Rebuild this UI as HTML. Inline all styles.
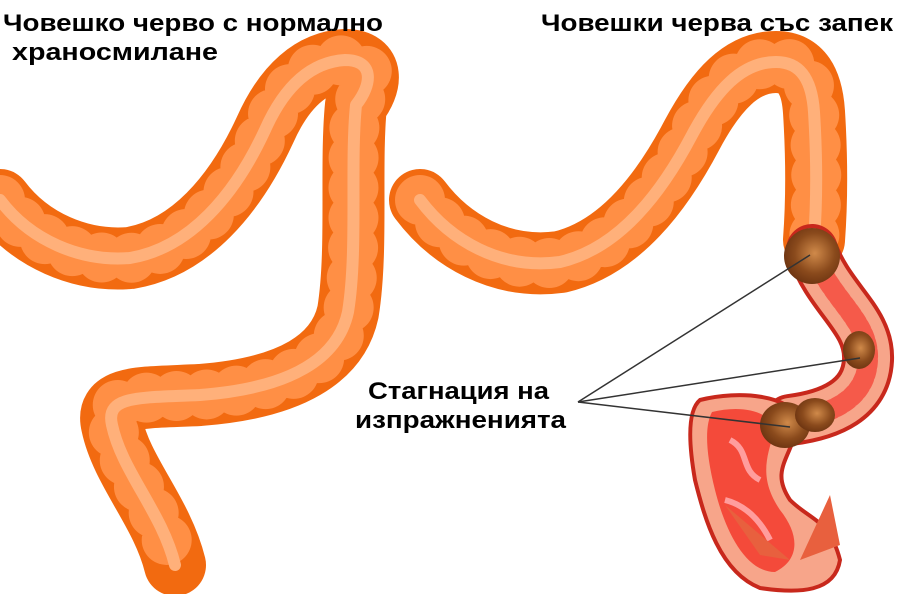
<!DOCTYPE html>
<html><head><meta charset="utf-8"><style>
html,body{margin:0;padding:0;background:#fff;}
svg{display:block}
text{font-family:"Liberation Sans",sans-serif;font-weight:bold;font-size:24px;fill:#000}
</style></head><body>
<svg width="917" height="594" viewBox="0 0 917 594">
<defs>
<radialGradient id="poo" cx="55%" cy="45%" r="60%">
<stop offset="0" stop-color="#d08a4a"/><stop offset="0.6" stop-color="#8a4a1c"/><stop offset="1" stop-color="#6a3210"/>
</radialGradient>
<path id="L" d="M0,200 C30,240 80,262 130,258 C190,248 235,195 265,130 C285,85 312,62 345,60 C375,60 372,85 356,105 C350,165 358,250 348,312 C338,358 292,388 200,395 C140,398 105,395 112,425 C122,472 162,512 175,565"/>
<path id="R" d="M420,200 C450,240 500,270 560,262 C620,248 662,192 692,135 C716,90 742,62 776,62 C802,62 812,82 814,112 C817,160 817,200 814,240"/>
</defs>
<g fill="none" stroke-linecap="round" stroke-linejoin="round">
<use href="#L" stroke="#f26a10" stroke-width="62"/>
<use href="#L" stroke="#ff8f45" stroke-width="50" stroke-dasharray="0 30"/>
<use href="#L" stroke="#ffb07a" stroke-width="12"/>
<use href="#R" stroke="#f26a10" stroke-width="62"/>
<use href="#R" stroke="#ff8f45" stroke-width="50" stroke-dasharray="0 30"/>
<use href="#R" stroke="#ffb07a" stroke-width="12"/>
<!-- cutaway section -->
<path d="M812,250 C830,300 870,320 868,360 C866,400 830,415 790,420" stroke="#c8281c" stroke-width="52"/>
<path d="M812,250 C830,300 870,320 868,360 C866,400 830,415 790,420" stroke="#f7a58a" stroke-width="44"/>
<path d="M812,250 C830,300 870,320 868,360 C866,400 830,415 790,420" stroke="#f55a4a" stroke-width="20" stroke-dasharray="5 4"/>
</g>
<!-- rectum -->
<path d="M700,400 C740,390 790,395 800,420 C790,460 770,470 790,500 C810,520 830,520 840,560 C835,592 800,594 760,588 C720,572 705,520 695,480 C688,440 688,410 700,400Z" fill="#f7a58a" stroke="#c8281c" stroke-width="4"/>
<path d="M712,412 C740,405 770,410 775,430 C765,460 760,480 780,510 C800,535 800,560 775,572 C745,572 725,530 715,490 C705,450 705,425 712,412Z" fill="#f44a3a"/>
<path d="M730,440 C750,450 740,470 760,480 M725,500 C745,505 760,520 770,540" stroke="#ff9d9d" stroke-width="6" fill="none"/>
<path d="M760,555 L725,505 L790,560Z M800,560 L830,495 L840,545 Z" fill="#e8603e"/>
<!-- feces -->
<circle cx="812" cy="256" r="28" fill="url(#poo)"/>
<ellipse cx="859" cy="350" rx="16" ry="19" fill="url(#poo)"/>
<ellipse cx="785" cy="425" rx="25" ry="23" fill="url(#poo)"/>
<ellipse cx="815" cy="415" rx="20" ry="17" fill="url(#poo)"/>
<g stroke="#333" stroke-width="1.5">
<line x1="578" y1="402" x2="810" y2="255"/>
<line x1="578" y1="402" x2="860" y2="358"/>
<line x1="578" y1="402" x2="790" y2="427"/>
</g>
<text x="3" y="31" textLength="380" lengthAdjust="spacingAndGlyphs">Човешко черво с нормално</text>
<text x="12" y="60" textLength="206" lengthAdjust="spacingAndGlyphs">храносмилане</text>
<text x="541" y="31" textLength="352" lengthAdjust="spacingAndGlyphs">Човешки черва със запек</text>
<text x="368" y="399" textLength="181" lengthAdjust="spacingAndGlyphs">Стагнация на</text>
<text x="355" y="428" textLength="211" lengthAdjust="spacingAndGlyphs">изпражненията</text>
</svg>
</body></html>
